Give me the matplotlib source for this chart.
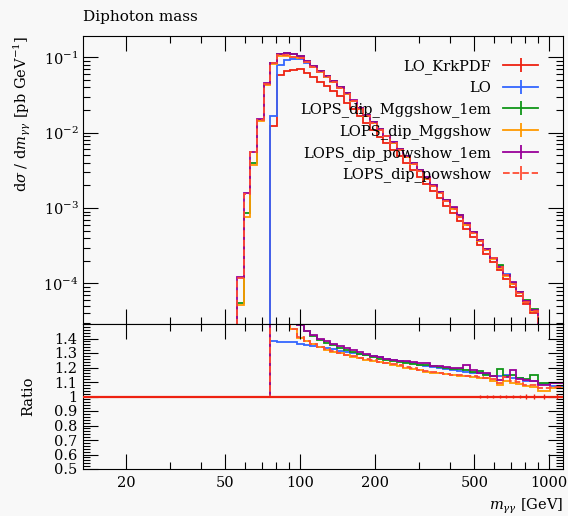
import matplotlib
matplotlib.use("Agg")
import matplotlib.pyplot as plt
import numpy as np
from matplotlib.lines import Line2D
from matplotlib.ticker import FixedLocator, LogLocator, MultipleLocator, FuncFormatter, NullFormatter

plt.rcParams['font.family'] = 'DejaVu Serif'
plt.rcParams['mathtext.fontset'] = 'dejavuserif'
plt.rcParams['font.size'] = 10.5

# bin edges of the diphoton mass histogram [GeV]
edges = [55.7, 59.3, 63.0, 67.0, 71.3, 75.8, 80.6, 85.7, 91.1, 96.9, 103.1, 109.6,
         116.6, 124.0, 131.8, 140.2, 149.1, 158.5, 168.6, 179.3, 190.7, 202.8, 215.7,
         229.3, 243.9, 259.4, 275.8, 293.4, 311.9, 331.7, 352.8, 375.2, 399.0, 424.3,
         451.2, 479.9, 510.3, 542.7, 577.1, 613.7, 652.6, 694.1, 738.2, 785.0, 834.8,
         903.0, 1009.0, 1135.0]

# reference: LO_KrkPDF  [pb/GeV]
lo_krkpdf = [0, 0, 0, 0, 0, 0.0121, 0.058, 0.066, 0.069, 0.0693, 0.0624, 0.0547,
             0.0476, 0.0414, 0.0359, 0.0303, 0.0251, 0.0204, 0.01644, 0.01327, 0.01084,
             8.87e-3, 7.26e-3, 5.94e-3, 4.85e-3, 3.95e-3, 3.21e-3, 2.60e-3, 2.10e-3,
             1.69e-3, 1.355e-3, 1.076e-3, 8.51e-4, 6.71e-4, 5.27e-4, 4.12e-4, 3.21e-4,
             2.49e-4, 1.93e-4, 1.49e-4, 1.153e-4, 8.91e-5, 6.89e-5, 5.32e-5, 4.0e-5,
             2.2e-5, 1.5e-5]

# relative stat. error of the reference (seen in ratio panel)
krk_relerr = [0.002] * 33 + [0.004, 0.005, 0.006, 0.007, 0.008, 0.009, 0.010, 0.011,
                             0.012, 0.013, 0.014, 0.014, 0.016, 0.018]

# low-mass bins 0-8 read in the main panel
lo_low = [0, 0, 0, 0, 0, 0.0167, 0.080, 0.091, 0.095]
mgg1em_low = [5.5e-5, 8.5e-4, 4.0e-3, 0.0146, 0.0445, 0.0850, 0.110, 0.114, 0.110]
mgg_low = [5.2e-5, 7.7e-4, 3.7e-3, 0.0144, 0.0430, 0.0815, 0.104, 0.105, 0.101]
pow1em_low = [1.21e-4, 1.57e-3, 5.6e-3, 0.0152, 0.0452, 0.0853, 0.111, 0.115, 0.111]
pow_low = [1.20e-4, 1.55e-3, 5.5e-3, 0.0148, 0.0440, 0.0830, 0.106, 0.106, 0.101]

# ratios to LO_KrkPDF for bins 9-46 read in the ratio panel
lo_ratio = [1.362, 1.355, 1.348, 1.340, 1.332, 1.325, 1.316, 1.307, 1.300, 1.292,
            1.285, 1.278, 1.270, 1.262, 1.255, 1.248, 1.238, 1.228, 1.220, 1.212,
            1.205, 1.200, 1.188, 1.180, 1.176, 1.172, 1.165, 1.162, 1.158, 1.142,
            1.138, 1.148, 1.130, 1.126, 1.106, 1.104, 1.088, 1.070]
mgg1em_ratio = [1.490, 1.450, 1.418, 1.392, 1.370, 1.352, 1.336, 1.322, 1.308, 1.295,
                1.283, 1.272, 1.262, 1.253, 1.245, 1.238, 1.232, 1.226, 1.220, 1.215,
                1.210, 1.204, 1.198, 1.192, 1.190, 1.185, 1.170, 1.178, 1.150, 1.140,
                1.190, 1.140, 1.150, 1.125, 1.118, 1.150, 1.090, 1.090]
mgg_ratio = [1.405, 1.382, 1.360, 1.340, 1.322, 1.308, 1.297, 1.285, 1.275, 1.265,
             1.255, 1.245, 1.236, 1.228, 1.220, 1.210, 1.200, 1.190, 1.180, 1.170,
             1.165, 1.160, 1.152, 1.145, 1.140, 1.138, 1.132, 1.128, 1.126, 1.110,
             1.080, 1.105, 1.095, 1.085, 1.069, 1.065, 1.040, 1.058]
pow1em_ratio = [1.490, 1.455, 1.425, 1.400, 1.380, 1.362, 1.348, 1.335, 1.320, 1.305,
                1.293, 1.282, 1.272, 1.262, 1.255, 1.248, 1.243, 1.236, 1.232, 1.228,
                1.212, 1.208, 1.205, 1.197, 1.200, 1.220, 1.180, 1.165, 1.160, 1.144,
                1.116, 1.135, 1.180, 1.118, 1.115, 1.105, 1.080, 1.093]
pow_ratio = [1.410, 1.385, 1.362, 1.343, 1.326, 1.311, 1.300, 1.289, 1.279, 1.268,
             1.258, 1.249, 1.240, 1.231, 1.223, 1.214, 1.205, 1.195, 1.186, 1.176,
             1.170, 1.165, 1.158, 1.150, 1.146, 1.142, 1.138, 1.133, 1.128, 1.118,
             1.095, 1.135, 1.105, 1.098, 1.082, 1.078, 1.062, 1.066]

labels = ["LO_KrkPDF", "LO", "LOPS_dip_Mggshow_1em", "LOPS_dip_Mggshow",
          "LOPS_dip_powshow_1em", "LOPS_dip_powshow"]
colors = ["#ee2211", "#3366ff", "#109618", "#ff9900", "#990099", "#ff4d33"]
styles = ["-", "-", "-", "-", "-", "--"]

edges = np.array(edges)
ref = np.array(lo_krkpdf)
series = [ref]
for low, rat in [(lo_low, lo_ratio), (mgg1em_low, mgg1em_ratio), (mgg_low, mgg_ratio),
                 (pow1em_low, pow1em_ratio), (pow_low, pow_ratio)]:
    series.append(np.concatenate([low, ref[9:] * np.array(rat)]))

bg = "#f8f8f8"
fig = plt.figure(figsize=(5.68, 5.16), dpi=100, facecolor=bg)
ax = fig.add_axes([83 / 568, 192 / 516, 480 / 568, 288 / 516], facecolor=bg)
rax = fig.add_axes([83 / 568, 47 / 516, 480 / 568, 145 / 516], facecolor=bg, sharex=ax)

lw = 1.3
for vals, c, ls in zip(series, colors, styles):
    ax.stairs(np.where(vals > 0, vals, 1e-9), edges, color=c, lw=lw, linestyle=ls)
    ratio = np.where(ref > 0, vals / np.where(ref > 0, ref, 1), 1.0)
    rax.stairs(ratio, edges, color=c, lw=lw, linestyle=ls, baseline=None)

# reference line and its errors in the ratio
rax.axhline(1.0, color=colors[0], lw=1.6, zorder=5)
centres = np.sqrt(edges[:-1] * edges[1:])
rax.errorbar(centres, np.ones(len(centres)), yerr=np.array(krk_relerr), fmt="none",
             ecolor=colors[0], elinewidth=1.0, zorder=5)

ax.set_xscale("log")
ax.set_yscale("log")
ax.set_xlim(13.4, 1135)
ax.set_ylim(2.9e-5, 0.192)
rax.set_ylim(0.5, 1.5)

for a in (ax, rax):
    a.xaxis.set_major_locator(FixedLocator([20, 50, 100, 200, 500, 1000]))
    a.xaxis.set_minor_locator(FixedLocator([30, 40, 60, 70, 80, 90, 300, 400, 600, 700, 800, 900]))
    a.xaxis.set_minor_formatter(NullFormatter())
    a.tick_params(which="both", direction="in", top=True, right=True, width=0.8)
    a.tick_params(which="major", length=10.8)
    a.tick_params(which="minor", length=5.2)
    for s in a.spines.values():
        s.set_linewidth(0.8)

ax.tick_params(labelbottom=False)
ax.tick_params(axis="y", pad=3)
ax.yaxis.set_major_locator(LogLocator(base=10))
ax.yaxis.set_minor_locator(LogLocator(base=10, subs=range(2, 10), numticks=20))
ax.yaxis.set_minor_formatter(NullFormatter())

rax.xaxis.set_major_formatter(FuncFormatter(lambda v, p: "%g" % v))
rax.tick_params(axis="x", pad=5)
rax.tick_params(axis="y", pad=4)
rax.yaxis.set_major_locator(FixedLocator([0.5, 0.6, 0.7, 0.8, 0.9, 1.0, 1.1, 1.2, 1.3, 1.4]))
rax.yaxis.set_minor_locator(MultipleLocator(0.02))
rax.yaxis.set_major_formatter(FuncFormatter(lambda v, p: "%g" % round(v, 2)))

fig.text(83 / 568, 1 - 21.5 / 516, "Diphoton mass", ha="left", va="baseline", fontsize=11)
ax.set_ylabel(r"d$\sigma$ / d$m_{\gamma\gamma}$ [pb GeV$^{-1}$]", loc="top")
ax.yaxis.set_label_coords(-0.105, 1.0)
rax.set_ylabel("Ratio")
rax.yaxis.set_label_coords(-0.1, 0.5)
rax.set_xlabel(r"$m_{\gamma\gamma}$ [GeV]", loc="right")
rax.xaxis.set_label_coords(1.0, -0.19)

handles = [Line2D([], [], color=c, lw=lw, linestyle=ls, marker="|", markersize=10,
                  markeredgewidth=lw) for c, ls in zip(colors, styles)]
ax.legend(handles, labels, loc="upper right", bbox_to_anchor=(0.948, 0.92),
          frameon=False, markerfirst=False, borderpad=0, borderaxespad=0,
          handlelength=2.4, handletextpad=0.8, labelspacing=0.48, fontsize=10.5)

fig.savefig("out.png", dpi=100, facecolor=bg)
